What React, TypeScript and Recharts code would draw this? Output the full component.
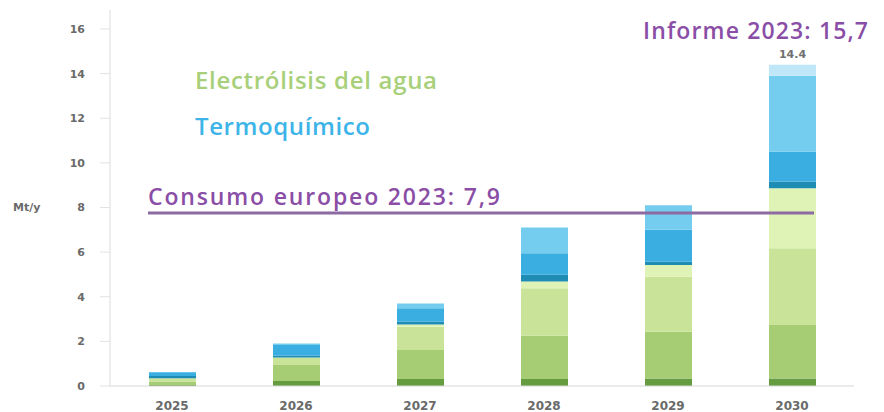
import { BarChart, Bar, XAxis, YAxis, ReferenceLine, LabelList } from "recharts"

const years = ["2025", "2026", "2027", "2028", "2029", "2030"]
const totals = [0.6, 1.9, 3.7, 7.1, 8.1, 14.4]

// electrólisis (greens, bottom up)
const elecDark = [0.05, 0.22, 0.31, 0.31, 0.34, 0.34]
const elecMid = [0.15, 0.72, 1.3, 1.94, 2.09, 2.39]
const elecLight = [0.15, 0.34, 1.05, 2.13, 2.47, 3.44]
const elecPale = [0, 0, 0.1, 0.3, 0.52, 2.69]
// termoquímico (blues, bottom up)
const termoDark = [0.1, 0.08, 0.12, 0.3, 0.15, 0.3]
const termoMid = [0.17, 0.48, 0.6, 0.97, 1.43, 1.34]
const termoLight = [0, 0.06, 0.22, 1.15, 1.1, 3.4]
const termoPale = [0, 0, 0, 0, 0, 0.5]

const yTicks = [0, 2, 4, 6, 8, 10, 12, 14, 16]
const consumoEuropeo = 7.75

const data = years.map((year, i) => ({
  year,
  total: totals[i],
  elecDark: elecDark[i],
  elecMid: elecMid[i],
  elecLight: elecLight[i],
  elecPale: elecPale[i],
  termoDark: termoDark[i],
  termoMid: termoMid[i],
  termoLight: termoLight[i],
  termoPale: termoPale[i],
}))

const series = [
  { key: "elecDark", color: "#649c3f" },
  { key: "elecMid", color: "#a6cc74" },
  { key: "elecLight", color: "#c9e499" },
  { key: "elecPale", color: "#e0f3b6" },
  { key: "termoDark", color: "#1f8db3" },
  { key: "termoMid", color: "#3aaee1" },
  { key: "termoLight", color: "#74cdef" },
  { key: "termoPale", color: "#c0e7f8" },
]

const purple = "#8a4ea6"
const tickFont = { fontFamily: "DejaVu Sans", fontWeight: 700, fill: "#6a6a6a" }
const annFont = { fontFamily: "Open Sans", fontWeight: 600 }

export default function App() {
  return (
    <div style={{ position: "absolute", left: 0, top: 0, width: 884, height: 412, background: "#fff" }}>
      <BarChart width={884} height={412} data={data} margin={{ top: 10, right: 30, left: 0, bottom: 0 }} barSize={47}>
        <XAxis dataKey="year" height={26} axisLine={{ stroke: "#d6d6d6" }} tickLine={false} tick={{ ...tickFont, fontSize: 12 }} tickMargin={9} />
        <YAxis
          width={110}
          domain={[0, 16.85]}
          ticks={yTicks}
          interval={0}
          axisLine={{ stroke: "#dcdcdc" }}
          tickLine={{ stroke: "#e2e2e2" }}
          tickSize={10}
          tickMargin={15}
          tick={{ ...tickFont, fontSize: 11 }}
        />
        {series.map((s, i) => (
          <Bar key={s.key} dataKey={s.key} stackId="a" fill={s.color} isAnimationActive={false}>
            {i === series.length - 1 && (
              <LabelList dataKey="total" position="top" offset={7} style={{ ...tickFont, fontSize: 11, fill: "#707070" }} />
            )}
          </Bar>
        ))}
        <ReferenceLine
          segment={[{ x: "2025", y: consumoEuropeo }, { x: "2030", y: consumoEuropeo }]}
          shape={(p: any) => (
            <line x1={p.x1 - 24} y1={p.y1} x2={p.x2 + 22} y2={p.y2} stroke="#8c6aa2" strokeWidth={3} />
          )}
        />
      </BarChart>
      <svg width={884} height={412} style={{ position: "absolute", left: 0, top: 0, pointerEvents: "none" }}>
        <text x={13} y={211} style={{ ...tickFont, fontSize: 11 }}>Mt/y</text>
        <text x={195} y={89} fontSize={24} fill="#a8d07a" style={annFont} textLength={242} lengthAdjust="spacing">Electrólisis del agua</text>
        <text x={195} y={135} fontSize={24} fill="#3db4e8" style={annFont} textLength={175} lengthAdjust="spacing">Termoquímico</text>
        <text x={148} y={205} fontSize={23} fill={purple} style={annFont} textLength={352} lengthAdjust="spacing">Consumo europeo 2023: 7,9</text>
        <text x={643} y={39} fontSize={23} fill={purple} style={annFont} textLength={225} lengthAdjust="spacing">Informe 2023: 15,7</text>
      </svg>
    </div>
  )
}
